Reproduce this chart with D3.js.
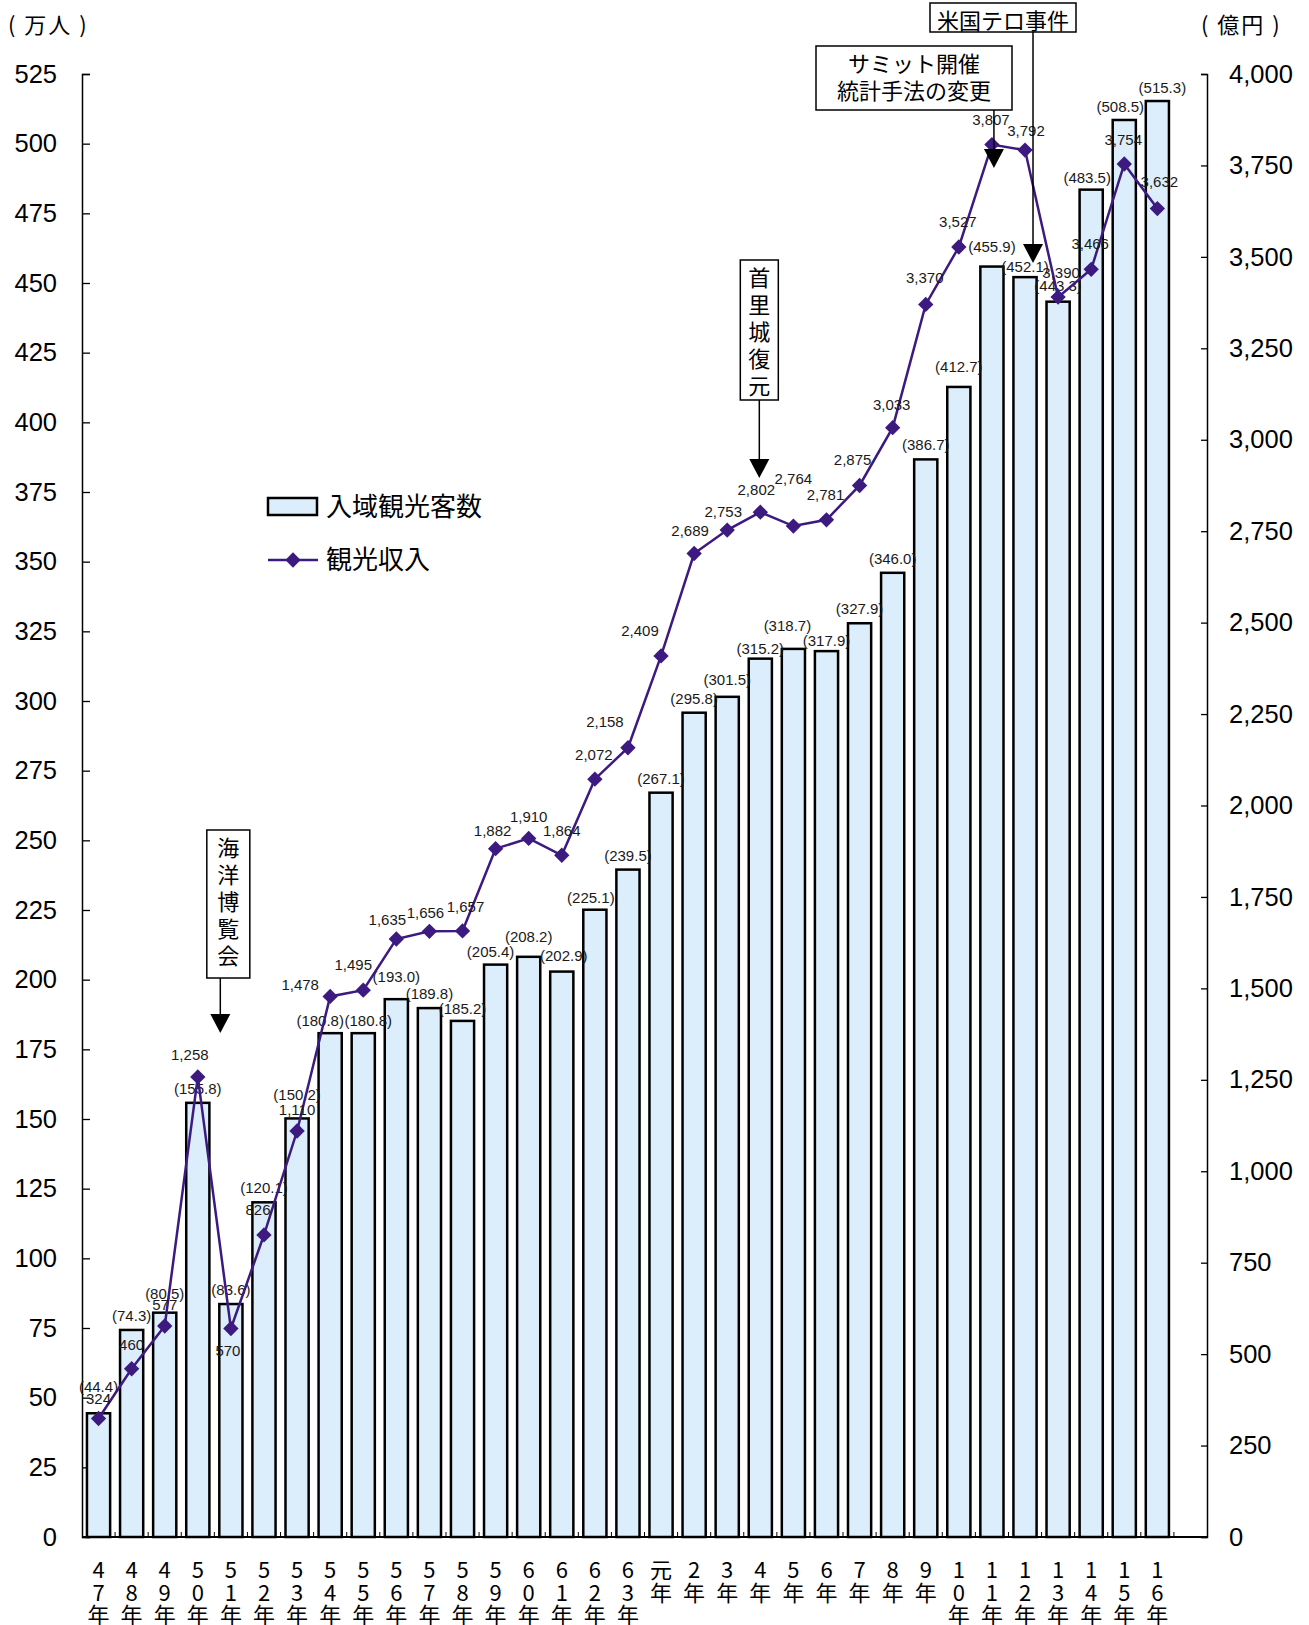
<!DOCTYPE html>
<html>
<head>
<meta charset="utf-8">
<script src="https://cdn.jsdelivr.net/npm/d3@7"></script>
<style>
  body { margin: 0; background: #fff; }
  svg { display: block; }
  .num { font-family: "Liberation Sans", Arial, sans-serif; }
  .jp { font-family: "Noto Sans CJK JP", "Noto Sans", sans-serif; }
</style>
</head>
<body>
<div id="chart"></div>
<script>
// Chart data
var years = ["47", "48", "49", "50", "51", "52", "53", "54", "55", "56", "57", "58", "59", "60", "61", "62", "63",
  "元", "2", "3", "4", "5", "6", "7", "8", "9", "10", "11", "12", "13", "14", "15", "16"];
var visitors = [44.4, 74.3, 80.5, 155.8, 83.6, 120.1, 150.2, 180.8, 180.8, 193.0, 189.8, 185.2, 205.4, 208.2, 202.9, 225.1, 239.5,
  267.1, 295.8, 301.5, 315.2, 318.7, 317.9, 327.9, 346.0, 386.7, 412.7, 455.9, 452.1, 443.3, 483.5, 508.5, 515.3];
var revenue = [324, 460, 577, 1258, 570, 826, 1110, 1478, 1495, 1635, 1656, 1657, 1882, 1910, 1864, 2072, 2158,
  2409, 2689, 2753, 2802, 2764, 2781, 2875, 3033, 3370, 3527, 3807, 3792, 3390, 3466, 3754, 3632];
var leftTicks = d3.range(0, 526, 25);
var rightTicks = d3.range(0, 4001, 250);

// label nudges so text sits like the original (index: [dx, dy])
var visitorLabelShift = {0: [0, -26], 2: [0, -19], 6: [0, -23], 7: [-10, -12], 8: [5, -12], 9: [0, -22], 11: [0, -12],
  12: [-5, -13], 13: [0, -20], 14: [2, -16], 15: [-4, -12], 19: [0, -17], 20: [0, -10], 21: [-6, -23], 22: [0, -10],
  26: [0, -20], 27: [0, -20], 28: [0, -10], 29: [0, -16], 30: [-4, -12], 31: [-4, -13], 32: [5, -13]};
var revenueLabelShift = {0: [0, -19], 1: [0, -24], 2: [0, -21], 3: [-8, -22], 4: [-3, 22], 5: [-6, -25], 6: [0, -21],
  7: [-30, -11], 8: [-10, -25], 9: [-9, -19], 10: [-4, -18], 11: [3, -24], 12: [-3, -18], 13: [0, -21], 14: [0, -24],
  15: [-1, -24], 16: [-23, -26], 17: [-21, -25], 18: [-4, -22], 19: [-4, -18], 20: [-4, -22], 21: [0, -47],
  22: [-1, -25], 23: [-7, -25], 24: [-1, -23], 25: [-1, -26], 26: [-1, -25], 27: [-1, -25], 28: [1, -19],
  29: [3, -24], 30: [-1, -25], 31: [-1, -24], 32: [2, -27]};

var width = 1309, height = 1625;
var plotLeft = 82, plotRight = 1207, plotTop = 74, plotBottom = 1537;
var barFill = "#dcedfb", lineColor = "#3d1a80";

var svg = d3.select("#chart").append("svg")
  .attr("width", width)
  .attr("height", height);

// one empty slot after the last year
var x = d3.scaleBand()
  .domain(d3.range(years.length + 1))
  .range([plotLeft, plotRight])
  .paddingInner(0.3)
  .paddingOuter(0.15);
var yL = d3.scaleLinear().domain([0, 525]).range([plotBottom, plotTop]);
var yR = d3.scaleLinear().domain([0, 4000]).range([plotBottom, plotTop]);
var cx = i => x(i) + x.bandwidth() / 2;

// axes
var axisL = svg.append("g")
  .attr("transform", `translate(${plotLeft},0)`)
  .call(d3.axisLeft(yL).tickValues(leftTicks).tickSize(-8).tickPadding(25));
var axisR = svg.append("g")
  .attr("transform", `translate(${plotRight},0)`)
  .call(d3.axisRight(yR).tickValues(rightTicks).tickFormat(d3.format(",")).tickSize(-6).tickPadding(22));
[axisL, axisR].forEach(g => {
  g.select(".domain").attr("stroke", "#000").attr("stroke-width", 1.5);
  g.selectAll(".tick line").attr("stroke", "#000").attr("stroke-width", 1.3);
  g.selectAll(".tick text").attr("class", "num").attr("font-size", 25.5).attr("fill", "#000");
});

// bars
svg.append("g")
  .selectAll("rect")
  .data(visitors)
  .join("rect")
  .attr("x", (d, i) => x(i))
  .attr("y", d => yL(d))
  .attr("width", x.bandwidth())
  .attr("height", d => plotBottom - yL(d))
  .attr("fill", barFill)
  .attr("stroke", "#000")
  .attr("stroke-width", 2.5);

// baseline with small ticks between slots
svg.append("line")
  .attr("x1", plotLeft).attr("x2", plotRight)
  .attr("y1", plotBottom).attr("y2", plotBottom)
  .attr("stroke", "#000").attr("stroke-width", 2.2);
svg.append("g")
  .selectAll("line")
  .data(d3.range(1, years.length + 1))
  .join("line")
  .attr("x1", i => x(i) - x.step() * x.paddingInner() / 2)
  .attr("x2", i => x(i) - x.step() * x.paddingInner() / 2)
  .attr("y1", plotBottom).attr("y2", plotBottom - 5)
  .attr("stroke", "#000").attr("stroke-width", 1);

// visitor labels
svg.append("g")
  .attr("class", "num")
  .attr("font-size", 15)
  .attr("text-anchor", "middle")
  .attr("fill", "#1a1a1a")
  .selectAll("text")
  .data(visitors)
  .join("text")
  .attr("x", (d, i) => cx(i) + (visitorLabelShift[i] || [0, -14])[0])
  .attr("y", (d, i) => yL(d) + (visitorLabelShift[i] || [0, -14])[1] + 5)
  .text(d => `(${d.toFixed(1)})`);

// revenue line and markers
var line = d3.line()
  .x((d, i) => cx(i))
  .y(d => yR(d));
svg.append("path")
  .datum(revenue)
  .attr("d", line)
  .attr("fill", "none")
  .attr("stroke", lineColor)
  .attr("stroke-width", 2.5);
var diamond = d3.symbol().type(d3.symbolDiamond2).size(150);
svg.append("g")
  .selectAll("path")
  .data(revenue)
  .join("path")
  .attr("transform", (d, i) => `translate(${cx(i)},${yR(d)})`)
  .attr("d", diamond)
  .attr("fill", lineColor);

svg.append("g")
  .attr("class", "num")
  .attr("font-size", 15)
  .attr("text-anchor", "middle")
  .attr("fill", "#1a1a1a")
  .selectAll("text")
  .data(revenue)
  .join("text")
  .attr("x", (d, i) => cx(i) + (revenueLabelShift[i] || [0, -22])[0])
  .attr("y", (d, i) => yR(d) + (revenueLabelShift[i] || [0, -22])[1] + 5)
  .text(d => d3.format(",")(d));

// x labels, stacked vertically
var xl = svg.append("g")
  .attr("class", "jp")
  .attr("font-size", 22)
  .attr("text-anchor", "middle")
  .attr("fill", "#000");
years.forEach((yr, i) => {
  var parts = yr.split("").concat(["年"]);
  var t = xl.append("text").attr("x", cx(i)).attr("y", 1578);
  parts.forEach((p, j) => {
    t.append("tspan").attr("x", cx(i)).attr("dy", j === 0 ? 0 : 22.5).text(p);
  });
});

// units
svg.append("text").attr("class", "jp").attr("x", 8).attr("y", 33)
  .attr("font-size", 22).attr("letter-spacing", 2).text("( 万人 )");
svg.append("text").attr("class", "jp").attr("x", 1201).attr("y", 33)
  .attr("font-size", 22).attr("letter-spacing", 2).text("( 億円 )");

// legend
var lg = svg.append("g").attr("class", "jp").attr("font-size", 26);
lg.append("rect").attr("x", 268).attr("y", 498).attr("width", 49).attr("height", 17)
  .attr("fill", barFill).attr("stroke", "#000").attr("stroke-width", 2.5);
lg.append("text").attr("x", 326).attr("y", 516).text("入域観光客数");
lg.append("line").attr("x1", 268).attr("x2", 318).attr("y1", 560).attr("y2", 560)
  .attr("stroke", lineColor).attr("stroke-width", 2.5);
lg.append("path").attr("transform", "translate(293,560)").attr("d", diamond).attr("fill", lineColor);
lg.append("text").attr("x", 326).attr("y", 569).text("観光収入");

// annotations
function arrow(xa, y1, y2) {
  svg.append("line").attr("x1", xa).attr("x2", xa).attr("y1", y1).attr("y2", y2 - 10)
    .attr("stroke", "#000").attr("stroke-width", 1.5);
  svg.append("path")
    .attr("d", `M${xa - 10},${y2 - 19}L${xa + 10},${y2 - 19}L${xa},${y2}Z`)
    .attr("fill", "#000");
}
function vbox(chars, xc, y0, y1, w) {
  svg.append("rect").attr("x", xc - w / 2).attr("y", y0).attr("width", w).attr("height", y1 - y0)
    .attr("fill", "#fff").attr("stroke", "#000").attr("stroke-width", 1.5);
  chars.split("").forEach((c, j) => {
    svg.append("text").attr("class", "jp").attr("font-size", 22).attr("text-anchor", "middle")
      .attr("x", xc).attr("y", y0 + 26 + j * 27).text(c);
  });
}
function hbox(lines, x0, x1, y0, y1) {
  svg.append("rect").attr("x", x0).attr("y", y0).attr("width", x1 - x0).attr("height", y1 - y0)
    .attr("fill", "#fff").attr("stroke", "#000").attr("stroke-width", 1.5);
  lines.forEach((s, j) => {
    svg.append("text").attr("class", "jp").attr("font-size", 22).attr("text-anchor", "middle")
      .attr("x", (x0 + x1) / 2).attr("y", y0 + 26 + j * 27).text(s);
  });
}

var expoX = cx(3) + x.step() * 0.68;
vbox("海洋博覧会", expoX + 8, 830, 978, 43);
arrow(expoX, 978, 1033);

var shuriX = cx(20);
vbox("首里城復元", shuriX - 1, 260, 400, 38);
arrow(shuriX - 1, 400, 478);

var summitX = cx(27) + 2;
hbox(["サミット開催", "統計手法の変更"], 816, 1012, 46, 110);
arrow(summitX, 110, 168);

var terrorX = cx(28) + 8;
arrow(terrorX, 32, 263);
hbox(["米国テロ事件"], 930, 1076, 3, 32);
</script>
</body>
</html>
